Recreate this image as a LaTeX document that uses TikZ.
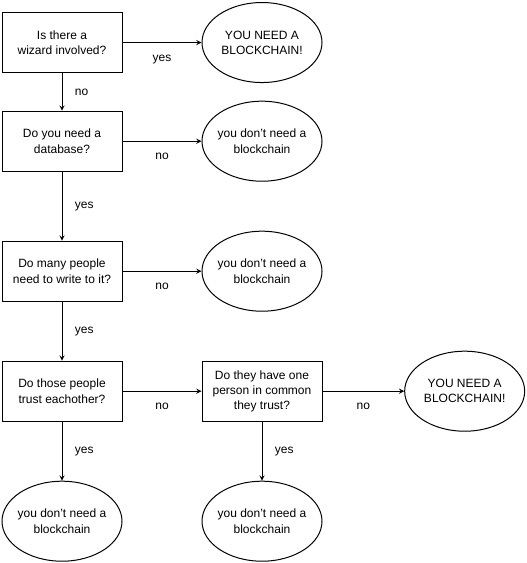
\documentclass[tikz,border=0pt]{standalone}
\usepackage{fontspec}
\setmainfont{Liberation Sans}
\usetikzlibrary{shapes.geometric,arrows}

\begin{document}
\begin{tikzpicture}
\tikzstyle{question}=[rectangle, draw=black, line width=0.75pt,
	minimum width=90pt, minimum height=45pt, align=center, inner sep=2pt,
	font=\fontsize{9}{11.4}\selectfont]
\tikzstyle{answer}=[ellipse, draw=black, line width=0.75pt,
	minimum width=90pt, minimum height=60pt, align=center,
	inner xsep=-2pt, inner ysep=0pt,
	font=\fontsize{9}{11.4}\selectfont]
\tikzstyle{link}=[-stealth, line width=0.75pt]
\tikzstyle{lbl}=[font=\fontsize{9}{11}\selectfont]
\useasboundingbox (0,0) rectangle (394.5pt,-422.25pt);
\node[question] (q1) at (46.5pt,-31.9pt) {Is there a\\wizard involved?};
\node[answer, right of = q1, node distance=150pt] (a1) {YOU NEED A\\BLOCKCHAIN!};
\node[question, below of = q1, node distance=74pt] (q2) {Do you need a\\database?};
\node[answer, right of = q2, node distance=150pt] (a2) {you don't need a\\blockchain};
\node[question, below of = q2, node distance=97.5pt] (q3) {Do many people\\need to write to it?};
\node[answer, right of = q3, node distance=150pt] (a3) {you don't need a\\blockchain};
\node[question, below of = q3, node distance=90pt] (q4) {Do those people\\trust eachother?};
\node[question, right of = q4, node distance=150pt] (q5) {Do they have one\\person in common\\they trust?};
\node[answer, right of = q5, node distance=152pt] (a4) {YOU NEED A\\BLOCKCHAIN!};
\node[answer, below of = q4, node distance=97.5pt] (a5) {you don't need a\\blockchain};
\node[answer, below of = q5, node distance=97.5pt] (a6) {you don't need a\\blockchain};
\path[link] (q1) edge node[lbl, midway, below=6pt] {yes} (a1) ;
\path[link] (q1) edge node[lbl, midway, right=6pt] {no} (q2) ;
\path[link] (q2) edge node[lbl, midway, below=5pt] {no} (a2) ;
\path[link] (q2) edge node[lbl, midway, right=6pt] {yes} (q3) ;
\path[link] (q3) edge node[lbl, midway, below=5pt] {no} (a3) ;
\path[link] (q3) edge node[lbl, midway, right=6pt] {yes} (q4) ;
\path[link] (q4) edge node[lbl, midway, below=5pt] {no} (q5) ;
\path[link] (q5) edge node[lbl, midway, below=5pt] {no} (a4) ;
\path[link] (q4) edge node[lbl, midway, right=6pt] {yes} (a5) ;
\path[link] (q5) edge node[lbl, midway, right=6pt] {yes} (a6) ;

\end{tikzpicture}
\end{document}
